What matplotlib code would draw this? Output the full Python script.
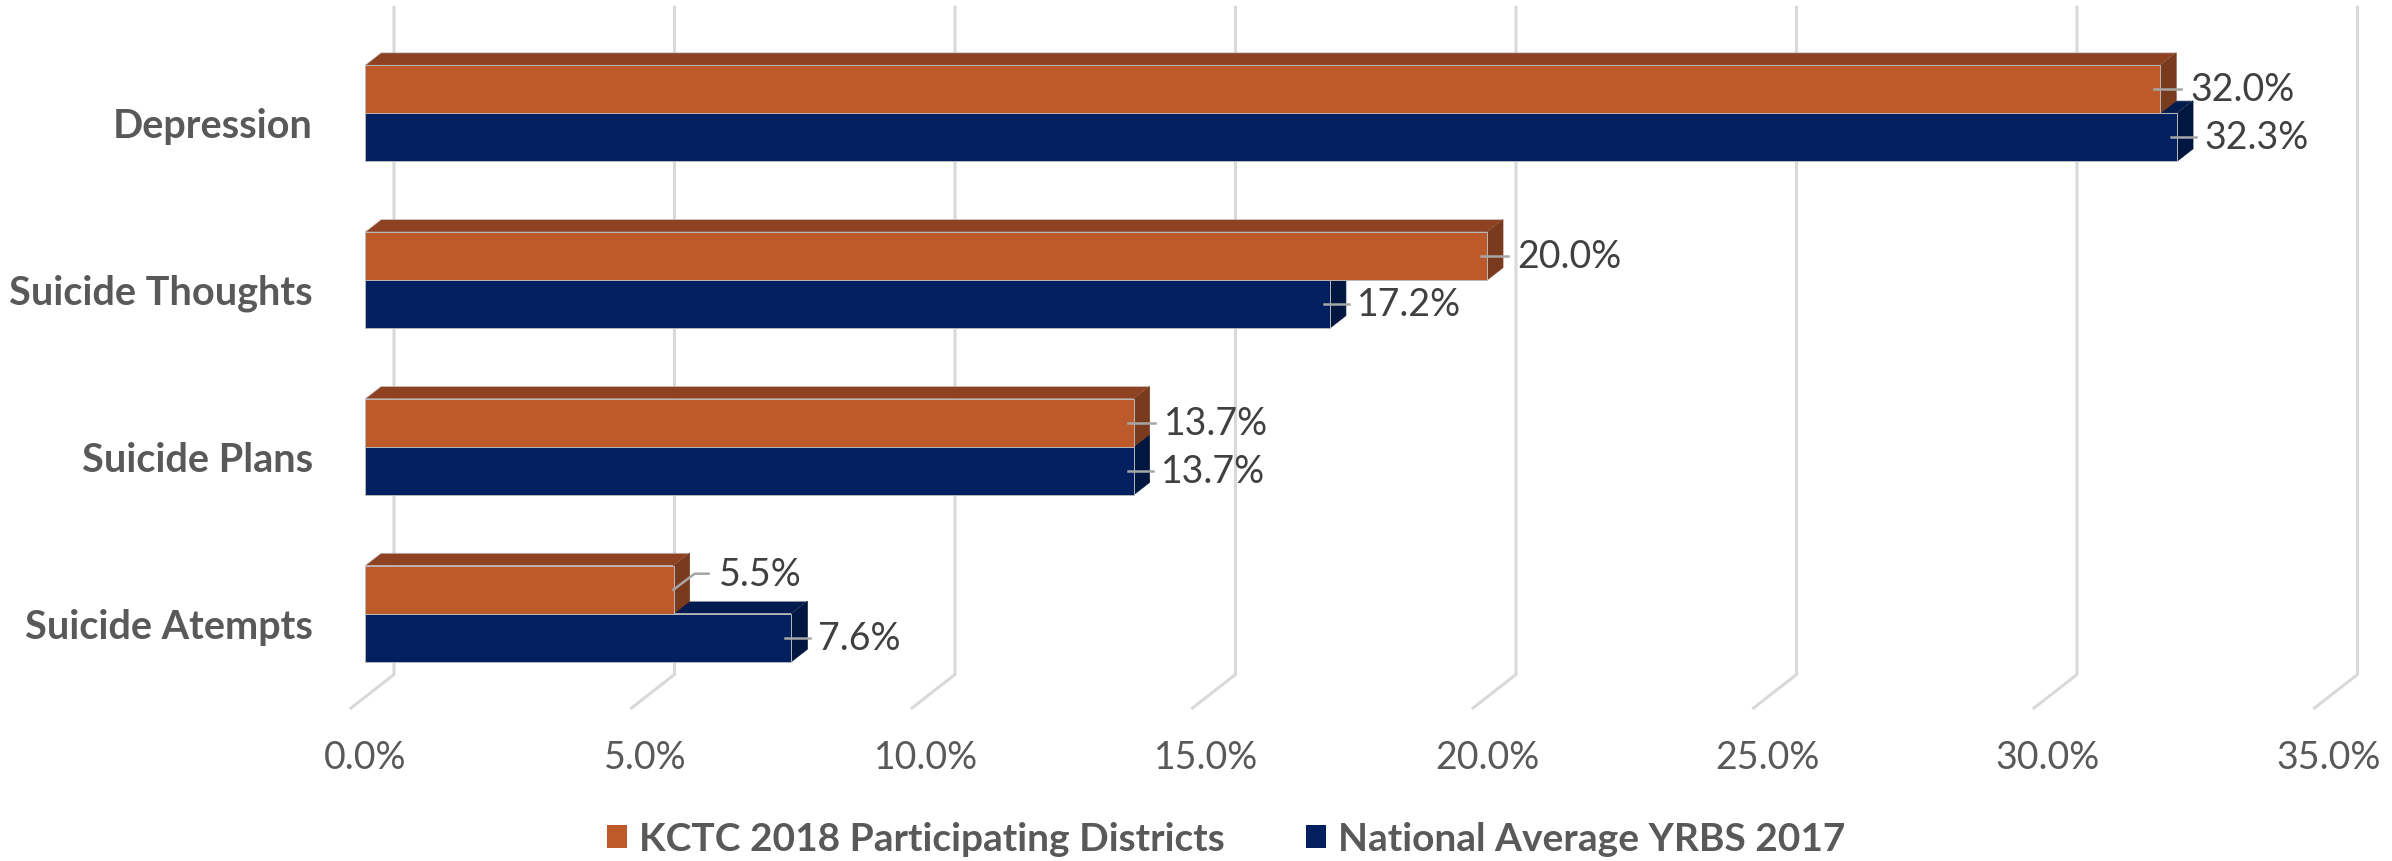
import matplotlib.pyplot as plt
from matplotlib.patches import Polygon, Patch

# data
categories = ["Depression", "Suicide Thoughts", "Suicide Plans", "Suicide Atempts"]
kctc_2018 = [32.0, 20.0, 13.7, 5.5]
yrbs_2017 = [32.3, 17.2, 13.7, 7.6]
series_names = ["KCTC 2018 Participating Districts", "National Average YRBS 2017"]
xticks = [0, 5, 10, 15, 20, 25, 30, 35]

# layout in pixels (front plane of the bars)
W, H, DPI = 2392, 862, 100
PX_PCT = 56.1      # pixels per 1 %
PX_CAT = 166.8     # pixels per category
X0 = 365           # pixel of 0 %
Y0 = 114.3         # pixel of first category centre
SLOPE = 0.78       # depth direction: up by 0.78 px per px right
BAR = 48 / PX_CAT  # one bar thickness in category units

plt.rcParams['font.family'] = ['Lato', 'DejaVu Sans']

fig = plt.figure(figsize=(W / DPI, H / DPI), dpi=DPI)
ax = fig.add_axes([0, 0, 1, 1])
ax.set_xlim(-X0 / PX_PCT, (W - X0) / PX_PCT)
ax.set_ylim((H - Y0) / PX_CAT, -Y0 / PX_CAT)
ax.axis('off')


def dep(x, y, d):
    # shift a front-plane point d pixels into the depth
    return (x + d / PX_PCT, y - SLOPE * d / PX_CAT)


def px(n):
    return n / PX_PCT


def box(x1, ytop, ybot, c_front, c_top, c_side, z):
    D = 16
    front = [(0, ytop), (x1, ytop), (x1, ybot), (0, ybot)]
    top = [(0, ytop), (x1, ytop), dep(x1, ytop, D), dep(0, ytop, D)]
    side = [(x1, ytop), dep(x1, ytop, D), dep(x1, ybot, D), (x1, ybot)]
    ax.add_patch(Polygon(top, closed=True, fc=c_top, ec='#c8c8c8', lw=0.5, zorder=z))
    ax.add_patch(Polygon(side, closed=True, fc=c_side, ec=c_side, lw=0.5, zorder=z))
    ax.add_patch(Polygon(front, closed=True, fc=c_front, ec='#b8b8b8', lw=0.7, zorder=z))


# gridlines on the back wall + floor diagonals
WALL = 29
for t in xticks:
    xb, yb = dep(t, 3.5, WALL)
    xt, yt = dep(t, -0.5, WALL)
    xf, yf = dep(t, 3.5, -14)
    ax.plot([xt, xb, xf], [yt, yb, yf], color='#d9d9d9', lw=2.2, zorder=1,
            solid_joinstyle='miter')
    ax.text(t, (758 - Y0) / PX_CAT, f"{t:.1f}%", ha='center', va='center',
            fontsize=27, color='#595959')

orange = ('#BD5A2C', '#8E4222', '#7A3A1D')
navy = ('#02205F', '#011B4E', '#011640')

for i, cat in enumerate(categories):
    a, b = kctc_2018[i], yrbs_2017[i]
    box(b, i, i + BAR, *navy, z=3 + i)
    box(a, i - BAR, i, *orange, z=3 + i)

    ax.text(px(313 - X0), i + 0.075, cat, ha='right', va='center',
            fontsize=28.5, fontweight='bold', color='#595959')

    # labels with leader lines
    yo = i - BAR / 2
    yn = i + BAR / 2
    if b - a > 1.0:
        yl = yo - 16 / PX_CAT
        ax.plot([a, a + px(21), a + px(35)], [yo, yl, yl], color='#a6a6a6', lw=1.8, zorder=10)
        ax.text(a + px(45), yl, f"{a:.1f}%", ha='left', va='center', fontsize=27,
                color='#404040', zorder=11)
    else:
        ax.plot([a - px(6), a + px(21)], [yo, yo], color='#a6a6a6', lw=1.8, zorder=10)
        ax.text(a + px(30), yo, f"{a:.1f}%", ha='left', va='center', fontsize=27,
                color='#404040', zorder=11)
    ax.plot([b - px(6), b + px(19)], [yn, yn], color='#a6a6a6', lw=1.8, zorder=10)
    ax.text(b + px(27), yn, f"{b:.1f}%", ha='left', va='center', fontsize=27,
            color='#404040', zorder=11)

handles = [Patch(fc=orange[0], ec='none', label=series_names[0]),
           Patch(fc=navy[0], ec='none', label=series_names[1])]
leg = ax.legend(handles=handles, loc='center', bbox_to_anchor=(1226 / W, 1 - 840 / H),
                ncol=2, frameon=False, handlelength=0.52, handleheight=0.52,
                handletextpad=0.3, columnspacing=2.1,
                prop={'size': 28, 'weight': 'bold'})
for txt in leg.get_texts():
    txt.set_color('#595959')

plt.savefig('out.png', dpi=DPI)
plt.close()
